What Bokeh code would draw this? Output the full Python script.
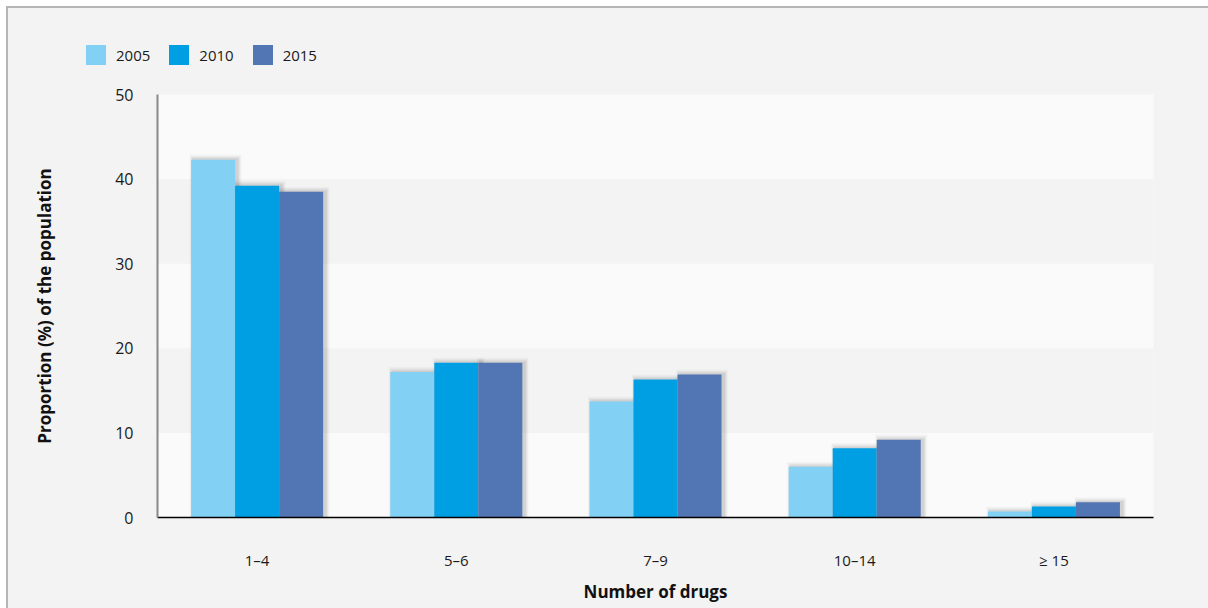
from bokeh.plotting import figure
from bokeh.layouts import column
from bokeh.models import ColumnDataSource, FactorRange, Range1d, FixedTicker, Legend, LegendItem
from bokeh.transform import dodge
from bokeh.embed import file_html
from bokeh.resources import INLINE

categories = ["1–4", "5–6", "7–9", "10–14", "≥ 15"]
years = ["2005", "2010", "2015"]
v2005 = [42.3, 17.2, 13.7, 6.0, 0.7]
v2010 = [39.2, 18.3, 16.3, 8.2, 1.3]
v2015 = [38.5, 18.3, 16.9, 9.2, 1.8]
colors = ["#83d0f5", "#009fe3", "#5275b3"]
y_ticks = [0, 10, 20, 30, 40, 50]

FONT = "Open Sans"
BG = "#f3f3f3"

data = dict(cat=categories, v2005=v2005, v2010=v2010, v2015=v2015)
for c in ["v2005", "v2010", "v2015"]:
    for k, d in enumerate([0.15, 0.3, 0.45, 0.6]):
        data[f"{c}_s{k}"] = [v + d for v in data[c]]
src = ColumnDataSource(data)

# legend strip on top
top = figure(width=1200, height=60, x_range=Range1d(0, 1), y_range=Range1d(0, 1),
             output_backend="svg", toolbar_location=None, x_axis_type=None, y_axis_type=None,
             min_border=0)
top.background_fill_color = BG
top.border_fill_color = BG
top.outline_line_color = None
top.xgrid.visible = False
top.ygrid.visible = False
items = []
for col, yr in zip(colors, years):
    # zero-height placeholder bar: only used to give the legend its swatch
    r = top.vbar(x=[0.5], top=[0], bottom=0, width=0.01, fill_color=col, line_color=None)
    items.append(LegendItem(label=yr, renderers=[r]))
legend = Legend(items=items, orientation="horizontal", location=(75, 1),
                glyph_width=25, glyph_height=25, label_standoff=8, spacing=16,
                padding=0, margin=0, border_line_color=None, background_fill_alpha=0,
                label_text_font=FONT, label_text_font_size="15px", label_text_color="#1a1a1a",
                label_height=25)
top.add_layout(legend, "center")

p = figure(width=1200, height=540, x_range=FactorRange(*categories, range_padding=0),
           y_range=Range1d(0, 50), output_backend="svg", toolbar_location=None,
           min_border_left=149, min_border_right=55, min_border_top=26, min_border_bottom=91)
p.background_fill_color = "#fafafa"
p.border_fill_color = BG
p.outline_line_color = None

for fig in (top, p):
    if "frame_align" in fig.properties():
        fig.frame_align = False

p.xgrid.grid_line_color = None
p.ygrid.grid_line_color = None
p.ygrid.ticker = FixedTicker(ticks=y_ticks)
p.ygrid.band_fill_color = BG
p.ygrid.band_fill_alpha = 1.0

p.yaxis.ticker = FixedTicker(ticks=y_ticks)
offsets = [-0.221, 0.0, 0.221]
cols = ["v2005", "v2010", "v2015"]
for off, c in zip(offsets, cols):
    for k, (w, a) in enumerate([(0.232, 0.06), (0.242, 0.045), (0.252, 0.035), (0.262, 0.025)]):
        p.vbar(x=dodge("cat", off + 0.012, range=p.x_range), top=f"{c}_s{k}", bottom=0, width=w,
               source=src, fill_color="black", fill_alpha=a, line_color=None)
for off, c, col in zip(offsets, cols, colors):
    p.vbar(x=dodge("cat", off, range=p.x_range), top=c, bottom=0, width=0.221,
           source=src, fill_color=col, line_color=None)

for ax in (p.xaxis, p.yaxis):
    ax.major_tick_line_color = None
    ax.minor_tick_line_color = None
    ax.major_label_text_font = FONT
    ax.major_label_text_font_size = "15px"
    ax.major_label_text_color = "#1a1a1a"
    ax.axis_label_text_font = FONT
    ax.axis_label_text_font_size = "17px"
    ax.axis_label_text_font_style = "bold"
    ax.axis_label_text_color = "#111111"

p.yaxis.major_label_text_font_size = "16px"
p.yaxis.axis_line_color = "#888888"
p.yaxis.axis_line_width = 2
p.yaxis.major_label_standoff = 18
p.yaxis.axis_label = "Proportion (%) of the population"
p.yaxis.axis_label_standoff = 56
p.xaxis.axis_line_color = "black"
p.xaxis.axis_line_width = 1.5
p.xaxis.major_label_standoff = 26
p.xaxis.axis_label = "Number of drugs"
p.xaxis.axis_label_standoff = 7

layout = column(top, p, spacing=0)
layout.styles = {"border-top": "2px solid #b5b5b5", "border-left": "2px solid #b5b5b5",
                 "margin-left": "6px", "margin-top": "6px", "background-color": BG}

open("out.html", "w").write(file_html(layout, INLINE))
